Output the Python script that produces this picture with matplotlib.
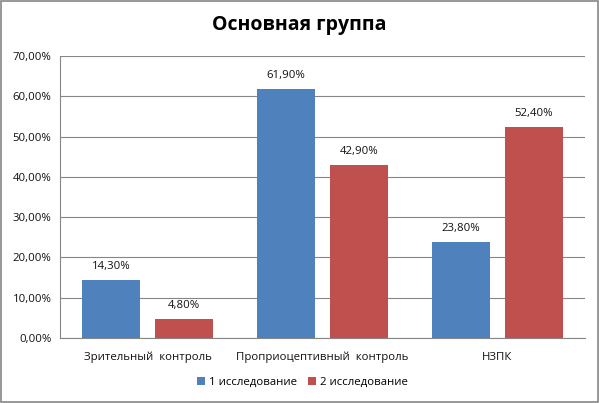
import numpy as np
import matplotlib.pyplot as plt
from matplotlib.patches import Rectangle
from matplotlib.ticker import FuncFormatter

categories = ['Зрительный  контроль', 'Проприоцептивный  контроль', 'НЗПК']
series_names = ['1 исследование', '2 исследование']
study1 = [14.3, 61.9, 23.8]
study2 = [4.8, 42.9, 52.4]
colors = ['#4F81BD', '#C0504D']

plt.rcParams['font.family'] = ['Open Sans', 'DejaVu Sans']

fig = plt.figure(figsize=(5.99, 4.03), dpi=100)
W, H = 599, 403
ax = fig.add_axes([60 / W, 1 - 338 / H, 525 / W, 282 / H])

x = np.arange(len(categories))
w = 0.33
off = 0.207
for vals, dx, c, name in [(study1, -off, colors[0], series_names[0]),
                          (study2, off, colors[1], series_names[1])]:
    bars = ax.bar(x + dx, vals, w, color=c, label=name, zorder=3)
    for b, v in zip(bars, vals):
        ax.text(b.get_x() + b.get_width() / 2, v + 2.0,
                f'{v:.2f}%'.replace('.', ','), ha='center', va='bottom',
                fontsize=8.2, color='#111111')

ax.set_xlim(-0.5, 2.5)
ax.set_ylim(0, 70)
ax.set_yticks(np.arange(0, 71, 10))
ax.yaxis.set_major_formatter(FuncFormatter(lambda v, p: f'{v:.2f}%'.replace('.', ',')))
ax.set_xticks(x)
ax.set_xticklabels(categories)
ax.grid(axis='y', color='#868686', linewidth=0.8, zorder=0)
for s in ['top', 'right']:
    ax.spines[s].set_visible(False)
ax.spines['left'].set_color('#868686')
ax.spines['bottom'].set_color('#868686')
ax.tick_params(axis='both', length=0, labelsize=8.2, colors='#111111', pad=6)
ax.tick_params(axis='x', pad=10)

fig.text(0.5, 1 - 25 / H, 'Основная группа', ha='center', va='center',
         fontsize=14, fontweight='bold')
fig.legend(loc='center', bbox_to_anchor=(0.505, 1 - 382 / H), ncol=2,
           frameon=False, fontsize=8.2, handlelength=0.7, handleheight=0.7,
           handletextpad=0.3, columnspacing=1.0)

fig.patches.append(Rectangle((1 / W, 1 / H), 1 - 2 / W, 1 - 2 / H,
                             transform=fig.transFigure, fill=False,
                             edgecolor='#868686', linewidth=1.2))
fig.savefig('out.png', dpi=100)
